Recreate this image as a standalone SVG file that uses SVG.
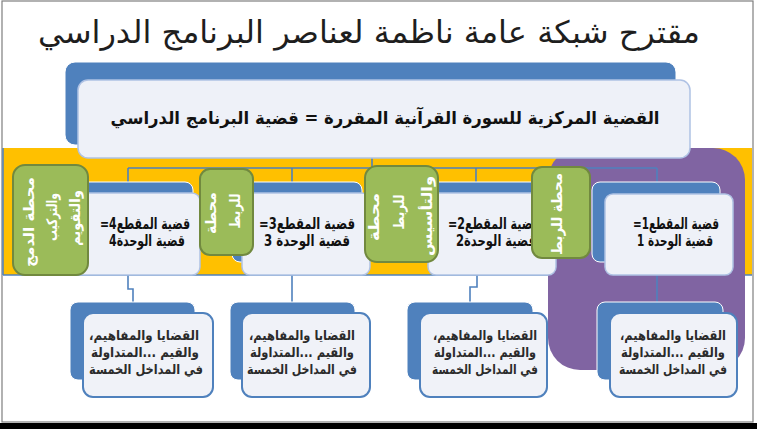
<svg xmlns="http://www.w3.org/2000/svg" width="757" height="429" viewBox="0 0 757 429">
<style>
.ar{font-family:"DejaVu Sans","Noto Sans",sans-serif;direction:rtl;unicode-bidi:embed;}
.back{fill:#4F81BD;stroke:#FFFFFF;stroke-width:1;}
.front{fill:#EEF1F8;stroke:#AFC2E4;stroke-width:1.5;}
.front3{fill:#F0F2F8;stroke:#4F81BD;stroke-width:2;}
.station{fill:#9BBB59;stroke:#71893F;stroke-width:2;}
.conn{fill:none;stroke:#4F81BD;stroke-width:1.6;}
.t2{font-size:15.5px;font-weight:bold;fill:#111;text-anchor:middle;}
.t3{font-size:13.5px;font-weight:bold;fill:#2b2b2b;text-anchor:middle;}
.ts{font-size:14.5px;font-weight:bold;fill:#FFFFFF;text-anchor:middle;dominant-baseline:central;}
</style>
<rect x="0" y="0" width="757" height="429" fill="#FFFFFF"/>
<rect x="2" y="1" width="751" height="421" fill="#FFFFFF" stroke="#7F7F7F" stroke-width="1.2"/>
<rect x="0" y="423" width="757" height="6" fill="#000000"/>
<text class="ar" direction="rtl" x="369" y="43" font-size="31" fill="#1E1E1E" text-anchor="middle" textLength="662" lengthAdjust="spacingAndGlyphs">مقترح شبكة عامة ناظمة لعناصر البرنامج الدراسي</text>
<g id="band">
<rect x="3" y="148" width="749" height="127" fill="#FFC000"/>
<line x1="3" y1="275" x2="752" y2="275" stroke="#4F81BD" stroke-width="1.5"/>
<line x1="3" y1="148" x2="3" y2="275" stroke="#4F81BD" stroke-width="1.5"/>
</g>
<g id="highlight">
<rect x="548" y="148" width="197" height="222" rx="32" fill="#8064A2"/>
</g>
<g id="connectors">
<path class="conn" d="M372,145 V168"/>
<path class="conn" d="M128,168 H657"/>
<path class="conn" d="M128,168 V182 M292,168 V182 M476,168 V182 M657,168 V182"/>
<path class="conn" d="M128,275 V289 H133 V302"/>
<path class="conn" d="M292,275 V302"/>
<path class="conn" d="M477,275 V287 H470 V302"/>
<path class="conn" d="M657,275 V302"/>
</g>
<g id="root">
<rect class="back" x="65" y="62" width="611" height="83" rx="10"/>
<rect class="front" x="78" y="80" width="612" height="78" rx="10"/>
<text class="ar" direction="rtl" x="385" y="124" font-size="17.5" font-weight="bold" fill="#111" text-anchor="middle" textLength="549" lengthAdjust="spacingAndGlyphs">القضية المركزية للسورة القرآنية المقررة = قضية البرنامج الدراسي</text>
</g>
<g id="unit4">
<rect class="back" x="65" y="182" width="128" height="80" rx="8"/>
<rect class="front" x="72" y="193" width="128" height="82" rx="8"/>
<text class="ar t2" direction="rtl" x="145" y="229" textLength="90" lengthAdjust="spacingAndGlyphs">قضية المقطع4=</text>
<text class="ar t2" direction="rtl" x="147" y="246" textLength="76" lengthAdjust="spacingAndGlyphs">قضية الوحدة4</text>
</g>
<g id="unit3">
<rect class="back" x="232" y="182" width="130" height="80" rx="8"/>
<rect class="front" x="242" y="193" width="128" height="82" rx="8"/>
<text class="ar t2" direction="rtl" x="307" y="229" textLength="96" lengthAdjust="spacingAndGlyphs">قضية المقطع3=</text>
<text class="ar t2" direction="rtl" x="307" y="246" textLength="86" lengthAdjust="spacingAndGlyphs">قضية الوحدة 3</text>
</g>
<g id="unit2">
<rect class="back" x="422" y="182" width="131" height="80" rx="8"/>
<rect class="front" x="428" y="193" width="128" height="82" rx="8"/>
<text class="ar t2" direction="rtl" x="494" y="229" textLength="92" lengthAdjust="spacingAndGlyphs">قضية المقطع2=</text>
<text class="ar t2" direction="rtl" x="496" y="246" textLength="80" lengthAdjust="spacingAndGlyphs">قضية الوحدة2</text>
</g>
<g id="unit1">
<rect class="back" x="592" y="182" width="128" height="80" rx="8"/>
<rect class="front" x="605" y="194" width="128" height="81" rx="8"/>
<text class="ar t2" direction="rtl" x="676" y="229" textLength="86" lengthAdjust="spacingAndGlyphs">قضية المقطع1=</text>
<text class="ar t2" direction="rtl" x="675" y="246" textLength="76" lengthAdjust="spacingAndGlyphs">قضية الوحدة 1</text>
</g>
<g id="station1">
<rect class="station" x="13" y="165" width="75" height="110" rx="12"/>
<text class="ar ts" direction="rtl" transform="translate(29,222) rotate(-90)" textLength="90" lengthAdjust="spacingAndGlyphs">محطة الدمج</text>
<text class="ar ts" direction="rtl" transform="translate(52,217) rotate(-90)" textLength="48" lengthAdjust="spacingAndGlyphs">والتركيب</text>
<text class="ar ts" direction="rtl" transform="translate(75,218) rotate(-90)" textLength="56" lengthAdjust="spacingAndGlyphs">والتقويم</text>
</g>
<g id="station2">
<rect class="station" x="200" y="169" width="53" height="86" rx="10"/>
<text class="ar ts" direction="rtl" transform="translate(211,213) rotate(-90)" textLength="42" lengthAdjust="spacingAndGlyphs">محطة</text>
<text class="ar ts" direction="rtl" transform="translate(235,211) rotate(-90)" textLength="35" lengthAdjust="spacingAndGlyphs">للربط</text>
</g>
<g id="station3">
<rect class="station" x="365" y="166" width="73" height="96" rx="12"/>
<text class="ar ts" direction="rtl" transform="translate(374,217) rotate(-90)" textLength="48" lengthAdjust="spacingAndGlyphs">محطة</text>
<text class="ar ts" direction="rtl" transform="translate(399,212) rotate(-90)" textLength="35" lengthAdjust="spacingAndGlyphs">للربط</text>
<text class="ar ts" direction="rtl" transform="translate(427,216) rotate(-90)" textLength="80" lengthAdjust="spacingAndGlyphs">والتأسيس</text>
</g>
<g id="station4">
<rect class="station" x="532" y="167" width="58" height="91" rx="10"/>
<text class="ar ts" direction="rtl" transform="translate(557,214) rotate(-90)" textLength="82" lengthAdjust="spacingAndGlyphs">محطة للربط</text>
</g>
<g id="content4">
<rect class="back" x="70" y="302" width="125" height="78" rx="8"/>
<rect class="front3" x="83" y="313" width="130" height="84" rx="10"/>
<text class="ar t3" direction="rtl" x="144" y="340" textLength="110" lengthAdjust="spacingAndGlyphs">القضايا والمفاهيم،</text>
<text class="ar t3" direction="rtl" x="145" y="357" textLength="108" lengthAdjust="spacingAndGlyphs">والقيم ...المتداولة</text>
<text class="ar t3" direction="rtl" x="146" y="374" textLength="114" lengthAdjust="spacingAndGlyphs">في المداخل الخمسة</text>
</g>
<g id="content3">
<rect class="back" x="230" y="302" width="125" height="78" rx="8"/>
<rect class="front3" x="242" y="313" width="128" height="84" rx="10"/>
<text class="ar t3" direction="rtl" x="302" y="340" textLength="106" lengthAdjust="spacingAndGlyphs">القضايا والمفاهيم،</text>
<text class="ar t3" direction="rtl" x="302" y="357" textLength="104" lengthAdjust="spacingAndGlyphs">والقيم ...المتداولة</text>
<text class="ar t3" direction="rtl" x="302" y="374" textLength="110" lengthAdjust="spacingAndGlyphs">في المداخل الخمسة</text>
</g>
<g id="content2">
<rect class="back" x="407" y="302" width="126" height="78" rx="8"/>
<rect class="front3" x="420" y="313" width="127" height="84" rx="10"/>
<text class="ar t3" direction="rtl" x="485" y="340" textLength="104" lengthAdjust="spacingAndGlyphs">القضايا والمفاهيم،</text>
<text class="ar t3" direction="rtl" x="485" y="357" textLength="102" lengthAdjust="spacingAndGlyphs">والقيم ...المتداولة</text>
<text class="ar t3" direction="rtl" x="485" y="374" textLength="106" lengthAdjust="spacingAndGlyphs">في المداخل الخمسة</text>
</g>
<g id="content1">
<rect class="back" x="597" y="302" width="126" height="78" rx="8"/>
<rect class="front3" x="610" y="313" width="127" height="84" rx="10"/>
<text class="ar t3" direction="rtl" x="673" y="340" textLength="106" lengthAdjust="spacingAndGlyphs">القضايا والمفاهيم،</text>
<text class="ar t3" direction="rtl" x="673" y="357" textLength="104" lengthAdjust="spacingAndGlyphs">والقيم ...المتداولة</text>
<text class="ar t3" direction="rtl" x="673" y="374" textLength="108" lengthAdjust="spacingAndGlyphs">في المداخل الخمسة</text>
</g>
</svg>
